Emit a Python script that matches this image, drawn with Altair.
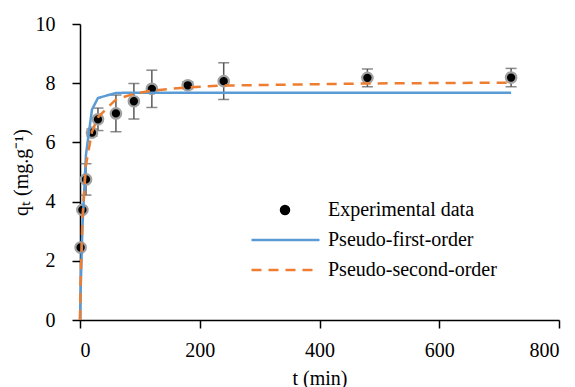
import altair as alt
import pandas as pd

# Contact time (min) and measured uptake q_t (mg/g) with error bars
t_exp = [1, 4, 10, 20, 30, 60, 90, 120, 180, 240, 480, 720]
q_exp = [2.45, 3.72, 4.75, 6.33, 6.78, 6.98, 7.39, 7.81, 7.93, 8.07, 8.18, 8.19]
q_err = [0.08, 0.08, 0.53, 0.12, 0.38, 0.62, 0.60, 0.63, 0.12, 0.62, 0.30, 0.31]

# Fitted kinetic models evaluated at the sampling times
t_fit = [0, 1, 4, 10, 20, 30, 60, 90, 120, 180, 240, 480, 720]
q_pfo = [0, 0.94, 3.11, 5.59, 7.11, 7.50, 7.67, 7.68, 7.68, 7.68, 7.68, 7.68, 7.68]
q_pso = [0, 1.25, 3.42, 5.24, 6.36, 6.85, 7.45, 7.64, 7.75, 7.86, 7.92, 7.99, 8.02]

exp_name = "Experimental data"
fit_names = ["Pseudo-first-order", "Pseudo-second-order"]
fit_colors = ["#5B9BD5", "#ED7D31"]
fit_dashes = [[1, 0], [10, 7]]

FONT = "Liberation Serif"

exp_df = pd.DataFrame({
    "t": t_exp,
    "q": q_exp,
    "lo": [q - e for q, e in zip(q_exp, q_err)],
    "hi": [q + e for q, e in zip(q_exp, q_err)],
    "series": exp_name,
})
fit_df = pd.concat([
    pd.DataFrame({"t": t_fit, "q": q_pfo, "series": fit_names[0]}),
    pd.DataFrame({"t": t_fit, "q": q_pso, "series": fit_names[1]}),
])

x_scale = alt.Scale(domain=[0, 800], nice=False)
y_scale = alt.Scale(domain=[0, 10], nice=False)

x_axis = alt.Axis(values=[0, 200, 400, 600, 800], title="t (min)", labelPadding=12,
                  titlePadding=8)
y_axis = alt.Axis(values=[0, 2, 4, 6, 8, 10], title="qₜ (mg.g⁻¹)", labelPadding=17,
                  titlePadding=4)

X = alt.X("t:Q", scale=x_scale, axis=x_axis)
Y = alt.Y("q:Q", scale=y_scale, axis=y_axis)

legend_common = dict(
    title=None,
    orient="none",
    labelFont=FONT,
    labelFontSize=20,
    labelColor="black",
    labelLimit=400,
    clipHeight=20,
    rowPadding=10,
)

point_legend = alt.Legend(
    legendX=195, legendY=176, symbolSize=110, symbolType="circle",
    symbolFillColor="black", symbolStrokeColor="#9a9a9a", symbolStrokeWidth=1,
    labelOffset=33, **legend_common,
)
line_legend = alt.Legend(
    legendX=170, legendY=206, symbolSize=4624, symbolType="stroke",
    symbolStrokeWidth=2.5, labelOffset=7, **legend_common,
)

err_bars = alt.Chart(exp_df).mark_rule(color="#595959", strokeWidth=1.5).encode(
    x=X, y=alt.Y("lo:Q", scale=y_scale, axis=y_axis), y2="hi:Q"
)
caps_lo = alt.Chart(exp_df).mark_tick(color="#595959", orient="horizontal", size=11,
                                      thickness=1.5).encode(
    x=X, y=alt.Y("lo:Q", scale=y_scale, axis=y_axis)
)
caps_hi = alt.Chart(exp_df).mark_tick(color="#595959", orient="horizontal", size=11,
                                      thickness=1.5).encode(
    x=X, y=alt.Y("hi:Q", scale=y_scale, axis=y_axis)
)
points = alt.Chart(exp_df).mark_point(filled=True, size=110, opacity=1, color="black",
                                      stroke="#a0a0a0", strokeWidth=2.2).encode(
    x=X, y=Y,
    shape=alt.Shape("series:N", scale=alt.Scale(domain=[exp_name], range=["circle"]),
                    legend=point_legend),
)
fit_lines = alt.Chart(fit_df).mark_line(strokeWidth=2.5).encode(
    x=X, y=Y,
    color=alt.Color("series:N", scale=alt.Scale(domain=fit_names, range=fit_colors),
                    legend=line_legend),
    strokeDash=alt.StrokeDash("series:N",
                              scale=alt.Scale(domain=fit_names, range=fit_dashes),
                              legend=line_legend),
)

chart = alt.layer(err_bars, caps_lo, caps_hi, points, fit_lines).properties(
    width=479,
    height=296,
    autosize=alt.AutoSizeParams(type="none"),
    padding={"left": 80, "top": 24, "right": 16, "bottom": 67},
    background="white",
).configure_view(stroke=None).configure_axis(
    grid=False,
    domainColor="black",
    domainWidth=1.5,
    tickColor="black",
    tickWidth=1.5,
    tickSize=8,
    labelFont=FONT,
    labelFontSize=20,
    labelColor="black",
    titleFont=FONT,
    titleFontSize=20,
    titleFontWeight="normal",
    titleColor="black",
)

chart.save("out.html", embed_options={"renderer": "svg", "actions": False})
